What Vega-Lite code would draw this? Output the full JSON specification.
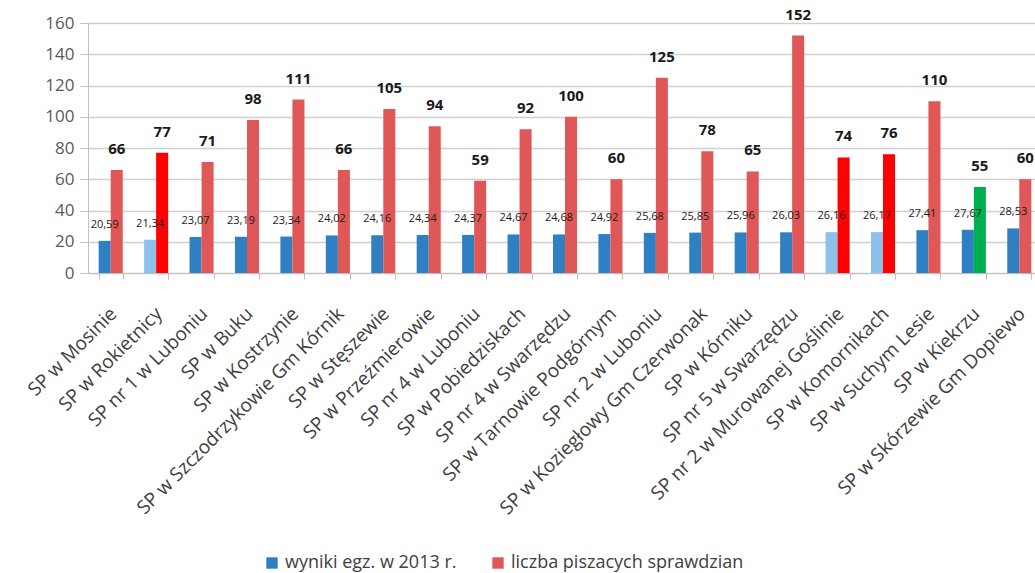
{
  "$schema": "https://vega.github.io/schema/vega-lite/v6.json",
  "width": 954,
  "height": 250,
  "autosize": "none",
  "padding": {"left": 88, "top": 23, "right": 0, "bottom": 300},
  "config": {
    "view": {"stroke": null},
    "font": "Open Sans",
    "locale": {"number": {"decimal": ",", "thousands": " ", "grouping": [3], "currency": ["", ""]}}
  },
  "data": {
    "values": [
      {"szkola": "SP w Mosinie", "seria": "wyniki egz. w 2013 r.", "wartosc": 20.59},
      {"szkola": "SP w Mosinie", "seria": "liczba piszacych sprawdzian", "wartosc": 66},
      {"szkola": "SP w Rokietnicy", "seria": "wyniki egz. w 2013 r.", "wartosc": 21.34},
      {"szkola": "SP w Rokietnicy", "seria": "liczba piszacych sprawdzian", "wartosc": 77},
      {"szkola": "SP nr 1 w Luboniu", "seria": "wyniki egz. w 2013 r.", "wartosc": 23.07},
      {"szkola": "SP nr 1 w Luboniu", "seria": "liczba piszacych sprawdzian", "wartosc": 71},
      {"szkola": "SP w Buku", "seria": "wyniki egz. w 2013 r.", "wartosc": 23.19},
      {"szkola": "SP w Buku", "seria": "liczba piszacych sprawdzian", "wartosc": 98},
      {"szkola": "SP w Kostrzynie", "seria": "wyniki egz. w 2013 r.", "wartosc": 23.34},
      {"szkola": "SP w Kostrzynie", "seria": "liczba piszacych sprawdzian", "wartosc": 111},
      {"szkola": "SP w Szczodrzykowie Gm Kórnik", "seria": "wyniki egz. w 2013 r.", "wartosc": 24.02},
      {"szkola": "SP w Szczodrzykowie Gm Kórnik", "seria": "liczba piszacych sprawdzian", "wartosc": 66},
      {"szkola": "SP w Stęszewie", "seria": "wyniki egz. w 2013 r.", "wartosc": 24.16},
      {"szkola": "SP w Stęszewie", "seria": "liczba piszacych sprawdzian", "wartosc": 105},
      {"szkola": "SP w Przeźmierowie", "seria": "wyniki egz. w 2013 r.", "wartosc": 24.34},
      {"szkola": "SP w Przeźmierowie", "seria": "liczba piszacych sprawdzian", "wartosc": 94},
      {"szkola": "SP nr 4 w Luboniu", "seria": "wyniki egz. w 2013 r.", "wartosc": 24.37},
      {"szkola": "SP nr 4 w Luboniu", "seria": "liczba piszacych sprawdzian", "wartosc": 59},
      {"szkola": "SP w Pobiedziskach", "seria": "wyniki egz. w 2013 r.", "wartosc": 24.67},
      {"szkola": "SP w Pobiedziskach", "seria": "liczba piszacych sprawdzian", "wartosc": 92},
      {"szkola": "SP nr 4 w Swarzędzu", "seria": "wyniki egz. w 2013 r.", "wartosc": 24.68},
      {"szkola": "SP nr 4 w Swarzędzu", "seria": "liczba piszacych sprawdzian", "wartosc": 100},
      {"szkola": "SP w Tarnowie Podgórnym", "seria": "wyniki egz. w 2013 r.", "wartosc": 24.92},
      {"szkola": "SP w Tarnowie Podgórnym", "seria": "liczba piszacych sprawdzian", "wartosc": 60},
      {"szkola": "SP nr 2 w Luboniu", "seria": "wyniki egz. w 2013 r.", "wartosc": 25.68},
      {"szkola": "SP nr 2 w Luboniu", "seria": "liczba piszacych sprawdzian", "wartosc": 125},
      {"szkola": "SP w Koziegłowy Gm Czerwonak", "seria": "wyniki egz. w 2013 r.", "wartosc": 25.85},
      {"szkola": "SP w Koziegłowy Gm Czerwonak", "seria": "liczba piszacych sprawdzian", "wartosc": 78},
      {"szkola": "SP w Kórniku", "seria": "wyniki egz. w 2013 r.", "wartosc": 25.96},
      {"szkola": "SP w Kórniku", "seria": "liczba piszacych sprawdzian", "wartosc": 65},
      {"szkola": "SP nr 5 w Swarzędzu", "seria": "wyniki egz. w 2013 r.", "wartosc": 26.03},
      {"szkola": "SP nr 5 w Swarzędzu", "seria": "liczba piszacych sprawdzian", "wartosc": 152},
      {"szkola": "SP nr 2 w Murowanej Goślinie", "seria": "wyniki egz. w 2013 r.", "wartosc": 26.16},
      {"szkola": "SP nr 2 w Murowanej Goślinie", "seria": "liczba piszacych sprawdzian", "wartosc": 74},
      {"szkola": "SP w Komornikach", "seria": "wyniki egz. w 2013 r.", "wartosc": 26.17},
      {"szkola": "SP w Komornikach", "seria": "liczba piszacych sprawdzian", "wartosc": 76},
      {"szkola": "SP w Suchym Lesie", "seria": "wyniki egz. w 2013 r.", "wartosc": 27.41},
      {"szkola": "SP w Suchym Lesie", "seria": "liczba piszacych sprawdzian", "wartosc": 110},
      {"szkola": "SP w Kiekrzu", "seria": "wyniki egz. w 2013 r.", "wartosc": 27.67},
      {"szkola": "SP w Kiekrzu", "seria": "liczba piszacych sprawdzian", "wartosc": 55},
      {"szkola": "SP w Skórzewie Gm Dopiewo", "seria": "wyniki egz. w 2013 r.", "wartosc": 28.53},
      {"szkola": "SP w Skórzewie Gm Dopiewo", "seria": "liczba piszacych sprawdzian", "wartosc": 60}
    ]
  },
  "encoding": {
    "x": {
      "field": "szkola", "type": "nominal", "sort": null,
      "scale": {"paddingInner": 0.47, "paddingOuter": 0.235},
      "axis": {
        "title": null, "labelAngle": -45, "labelFontSize": 19, "labelColor": "#404040",
        "tickBand": "extent", "tickSize": 6, "tickColor": "#bfbfbf", "domainColor": "#bfbfbf",
        "labelPadding": 25, "labelOffset": -4, "labelLimit": 500, "grid": false
      }
    },
    "xOffset": {
      "field": "seria", "type": "nominal",
      "sort": ["wyniki egz. w 2013 r.", "liczba piszacych sprawdzian"],
      "scale": {"paddingInner": 0, "paddingOuter": 0}
    },
    "y": {
      "field": "wartosc", "type": "quantitative",
      "scale": {"domain": [0, 160], "nice": false},
      "axis": {
        "title": null, "values": [0, 20, 40, 60, 80, 100, 120, 140, 160],
        "grid": true, "gridColor": "#d0d0d0", "gridWidth": 1.5,
        "domainColor": "#bfbfbf", "tickColor": "#bfbfbf", "tickSize": 8,
        "labelFontSize": 17, "labelColor": "#595959", "labelPadding": 6
      }
    }
  },
  "layer": [
    {
      "mark": {"type": "bar"},
      "encoding": {
        "color": {
          "field": "seria", "type": "nominal",
          "scale": {"domain": ["wyniki egz. w 2013 r.", "liczba piszacych sprawdzian"], "range": ["#2f7fc3", "#e05757"]},
          "condition": [
            {"test": "datum.seria == 'wyniki egz. w 2013 r.' && indexof(['SP w Rokietnicy', 'SP nr 2 w Murowanej Goślinie', 'SP w Komornikach'], datum.szkola) >= 0", "value": "#8dc0ea"},
            {"test": "datum.seria == 'liczba piszacych sprawdzian' && indexof(['SP w Rokietnicy', 'SP nr 2 w Murowanej Goślinie', 'SP w Komornikach'], datum.szkola) >= 0", "value": "#ff0000"},
            {"test": "datum.seria == 'liczba piszacych sprawdzian' && datum.szkola == 'SP w Kiekrzu'", "value": "#00b050"}
          ],
          "legend": {
            "orient": "none", "legendX": 175, "legendY": 531, "direction": "horizontal",
            "title": null, "symbolType": "square", "symbolSize": 130, "symbolStrokeWidth": 0,
            "labelFontSize": 18, "labelColor": "#404040", "columnPadding": 32, "labelLimit": 400,
            "values": ["wyniki egz. w 2013 r.", "liczba piszacych sprawdzian"]
          }
        }
      }
    },
    {
      "transform": [{"filter": "datum.seria == 'liczba piszacych sprawdzian'"}],
      "mark": {"type": "text", "fontWeight": "bold", "fontSize": 15, "baseline": "middle", "dy": -21, "color": "#1a1a1a"},
      "encoding": {"text": {"field": "wartosc", "type": "quantitative", "format": "d"}}
    },
    {
      "transform": [{"filter": "datum.seria == 'wyniki egz. w 2013 r.'"}],
      "mark": {"type": "text", "fontSize": 11, "baseline": "middle", "dy": -16, "color": "#1a1a1a"},
      "encoding": {"text": {"field": "wartosc", "type": "quantitative", "format": ".2f"}}
    }
  ]
}
